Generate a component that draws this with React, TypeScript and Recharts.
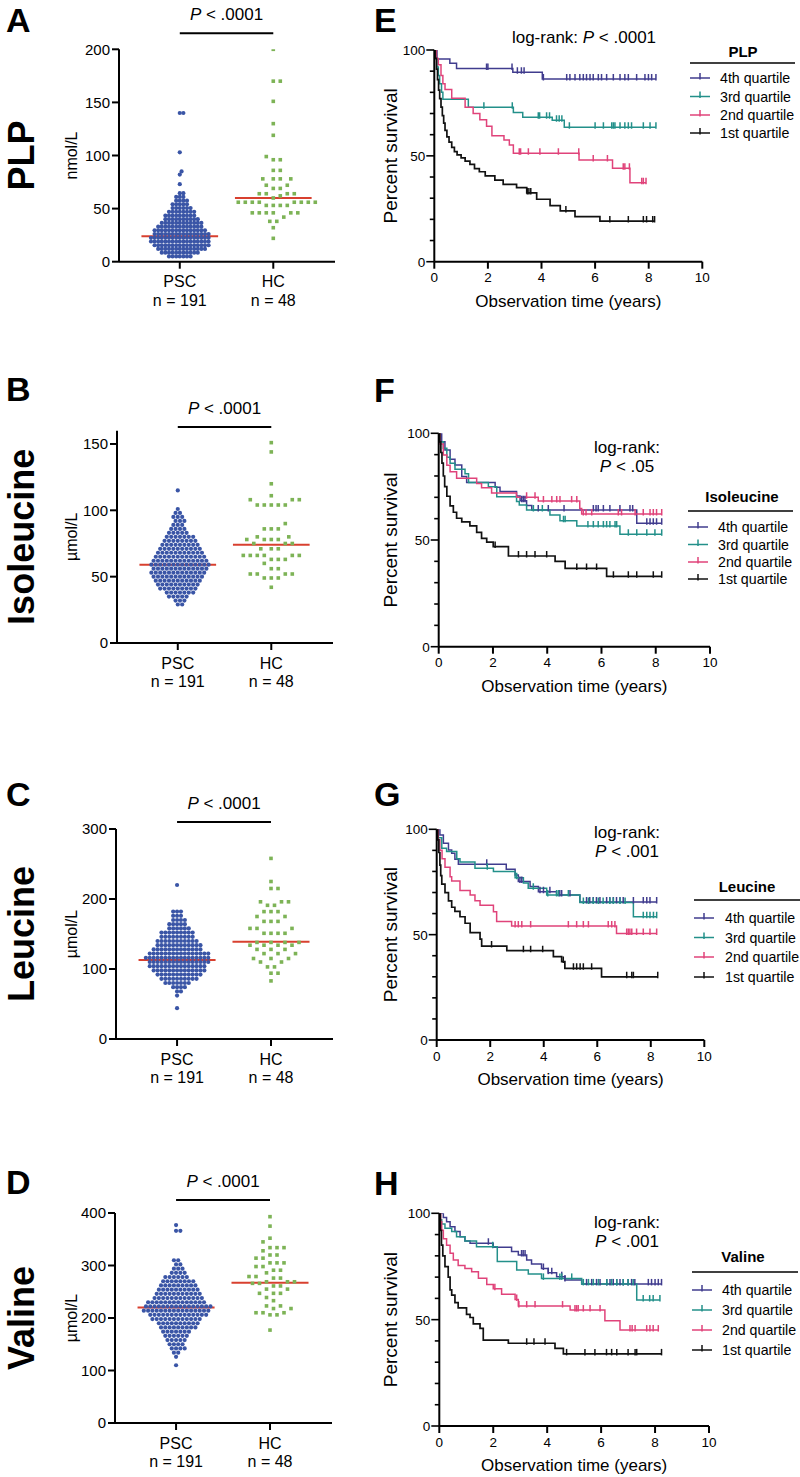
import React from 'react';
import { ScatterChart, Scatter, XAxis, YAxis, ReferenceLine, LineChart, Line, Legend } from 'recharts';

const FONT = '"Liberation Sans", Arial, Helvetica, sans-serif';

// ---------------- categories ----------------
const groupNames = ['PSC', 'HC'];
const groupSizes = ['n = 191', 'n = 48'];

// ---------------- scatter data (row value, number of dots in row) ----------------
// PLP (nmol/L)
const plpPscValues = [5, 8.5, 12, 15.5, 19, 22.5, 26, 29.5, 33, 36.5, 40, 43.5, 47, 50.5, 54, 57.5, 61, 64.5, 73, 82, 85, 103, 140];
const plpPscCounts = [7, 11, 14, 16, 17, 17, 16, 15, 13, 12, 10, 9, 8, 6, 5, 4, 3, 2, 1, 1, 1, 1, 2];
const plpHcValues = [22, 32, 38, 42, 46, 53, 56, 60, 62, 64, 69, 72, 78, 86, 96, 99, 119, 130, 151, 170, 200];
const plpHcCounts = [1, 1, 2, 1, 6, 4, 8, 1, 1, 4, 2, 2, 4, 2, 2, 1, 1, 1, 1, 2, 1];
const plpMedians = [24, 60];
const plpYTicks = [0, 50, 100, 150, 200];

// Isoleucine (µmol/L)
const ilePscValues = [29, 32, 35, 38, 41, 44, 47, 50, 53, 56, 59, 62, 65, 68, 71, 74, 77, 80, 83, 86, 89, 92, 95, 98, 101, 115];
const ilePscCounts = [2, 3, 5, 7, 9, 10, 11, 12, 13, 13, 14, 13, 12, 11, 10, 9, 8, 7, 5, 4, 3, 3, 3, 2, 1, 1];
const ileHcValues = [42, 49, 52, 56, 60, 63, 66, 71, 75, 78, 80, 86, 90, 104, 108, 111, 120, 144, 151];
const ileHcCounts = [1, 3, 4, 2, 1, 3, 6, 3, 3, 4, 2, 3, 1, 5, 3, 1, 1, 1, 1];
const ileMedians = [59, 74];
const ileYTicks = [0, 50, 100, 150];

// Leucine (µmol/L)
const leuPscValues = [44, 62, 68, 74, 80, 86, 92, 98, 104, 110, 116, 122, 128, 134, 140, 146, 152, 158, 164, 170, 176, 182, 220];
const leuPscCounts = [1, 1, 2, 4, 7, 10, 12, 14, 15, 16, 17, 16, 13, 12, 11, 9, 9, 6, 5, 4, 3, 3, 1];
const leuHcValues = [83, 94, 103, 110, 115, 122, 128, 134, 138, 151, 158, 168, 175, 182, 191, 196, 215, 225, 258];
const leuHcCounts = [1, 2, 2, 2, 3, 3, 3, 4, 4, 4, 3, 3, 2, 3, 2, 3, 2, 1, 1];
const leuMedians = [113, 139];
const leuYTicks = [0, 100, 200, 300];

// Valine (µmol/L)
const valPscValues = [110, 126, 134, 142, 150, 158, 166, 174, 182, 190, 198, 206, 214, 222, 230, 238, 246, 254, 262, 270, 278, 286, 294, 302, 310, 366, 377];
const valPscCounts = [1, 1, 2, 4, 4, 5, 6, 7, 9, 10, 12, 14, 16, 16, 14, 12, 11, 10, 9, 8, 6, 4, 3, 2, 2, 2, 1];
const valHcValues = [177, 206, 210, 218, 223, 233, 239, 247, 255, 261, 266, 269, 276, 279, 286, 291, 298, 305, 314, 320, 328, 334, 345, 352, 375, 393];
const valHcCounts = [1, 2, 3, 2, 2, 1, 1, 3, 2, 2, 2, 3, 2, 2, 1, 2, 2, 3, 2, 2, 1, 3, 1, 1, 1, 1];
const valMedians = [220, 267];
const valYTicks = [0, 100, 200, 300, 400];

// ---------------- Kaplan–Meier data: [time (years), percent survival] steps + censor times ----------------
const quartileNames = ['4th quartile', '3rd quartile', '2nd quartile', '1st quartile'];
const kmXTicks = [0, 2, 4, 6, 8, 10];
const kmYTicks = [0, 10, 20, 30, 40, 50, 60, 70, 80, 90, 100];

// PLP
const plpQ4Steps = [[0, 100], [0.1, 95.7], [0.58, 93.7], [0.83, 91.3], [2.93, 89.5], [4.03, 86.3]];
const plpQ4Censor = [1.95, 2.0, 2.9, 3.1, 3.25, 3.35, 4.07, 4.94, 5.06, 5.25, 5.43, 5.56, 5.68, 5.81, 5.93, 6.12, 6.24, 6.43, 6.68, 6.93, 7.11, 7.24, 7.55, 7.86, 7.99, 8.11, 8.27];
const plpQ3Steps = [[0, 100], [0.05, 96], [0.1, 92], [0.15, 88], [0.2, 84], [0.27, 80], [0.32, 76.7], [1.27, 72.9], [2.95, 70.5], [3.3, 68.2], [4.4, 66.8], [4.85, 63.5]];
const plpQ3Censor = [1.85, 2.91, 3.88, 3.93, 4.19, 4.3, 4.56, 4.66, 4.76, 5.04, 6.0, 6.31, 6.62, 6.68, 6.74, 6.93, 7.11, 7.24, 7.36, 7.8, 8.05, 8.27];
const plpQ2Steps = [[0, 100], [0.08, 96], [0.15, 93], [0.25, 88], [0.32, 84], [0.4, 81.4], [0.65, 77.2], [1.15, 73], [1.45, 70], [1.7, 67], [1.95, 64], [2.15, 59.5], [2.6, 57.5], [2.8, 55.1], [2.95, 51.2], [5.4, 48], [6.65, 44.1], [7.3, 37.3]];
const plpQ2Censor = [3.17, 3.22, 3.51, 3.94, 4.63, 5.39, 5.93, 6.46, 7.05, 7.11, 7.28, 7.74, 7.8, 7.9];
const plpQ1Steps = [[0, 100], [0.04, 96], [0.08, 91], [0.12, 86], [0.16, 81], [0.2, 77], [0.25, 73], [0.3, 69], [0.35, 65.5], [0.4, 62], [0.47, 59], [0.55, 56.5], [0.65, 54], [0.75, 52], [0.85, 50.5], [1.0, 49], [1.15, 47.5], [1.33, 46], [1.5, 44], [1.68, 42.5], [1.9, 40.5], [2.26, 38.5], [2.57, 36.5], [3.07, 35], [3.45, 32.5], [3.82, 29.5], [4.32, 26.5], [4.7, 24], [5.25, 21.3], [6.18, 19.2]];
const plpQ1Censor = [3.47, 3.53, 3.6, 4.91, 6.55, 7.24, 7.8, 7.92, 8.15, 8.22];

// Isoleucine
const ileQ4Steps = [[0, 100], [0.11, 96], [0.23, 92.2], [0.42, 87.8], [0.6, 85.2], [0.85, 79.7], [1.03, 77], [2.08, 74.7], [2.26, 72.7], [2.87, 70.6], [3.0, 68.4], [3.24, 66.2], [3.43, 64.1], [7.3, 57.8]];
const ileQ4Censor = [3.06, 3.12, 3.18, 3.67, 4.04, 4.62, 5.7, 5.8, 5.88, 6.07, 6.31, 6.68, 7.05, 7.15, 7.67, 7.79, 7.91, 8.03, 8.22];
const ileQ3Steps = [[0, 100], [0.05, 96], [0.17, 93], [0.3, 88.8], [0.42, 86], [0.6, 83.1], [0.97, 81], [1.1, 77], [1.83, 75], [2.14, 70.3], [2.87, 68], [2.97, 66.4], [3.24, 64], [4.1, 61.7], [4.47, 59], [5.09, 56.6], [6.68, 52.7]];
const ileQ3Censor = [3.49, 3.82, 4.6, 4.66, 5.5, 5.7, 5.88, 6.07, 6.19, 6.31, 6.5, 6.56, 6.99, 7.3, 7.67, 7.97, 8.22];
const ileQ2Steps = [[0, 100], [0.05, 95], [0.17, 89.8], [0.3, 85], [0.42, 82], [0.66, 78.9], [1.4, 76.5], [1.58, 74.5], [1.95, 72], [2.87, 70], [3.67, 68.3], [5.2, 64.8], [5.27, 62.2]];
const ileQ2Censor = [3.24, 3.55, 3.86, 4.17, 4.35, 4.47, 4.9, 5.09, 5.33, 5.43, 5.64, 6.62, 6.74, 7.24, 7.54, 7.79, 7.91, 8.03, 8.22];
const ileQ1Steps = [[0, 100], [0.04, 96], [0.08, 91], [0.12, 86], [0.17, 80], [0.22, 75], [0.3, 70.5], [0.42, 66], [0.54, 63], [0.66, 60.2], [0.85, 58.5], [1.15, 56.6], [1.4, 53.6], [1.58, 50.8], [1.77, 49], [2.01, 46.9], [2.57, 42.5], [4.29, 40], [4.66, 36.7], [6.19, 33]];
const ileQ1Censor = [2.08, 2.94, 3.24, 3.55, 3.98, 5.09, 5.45, 5.82, 6.44, 6.99, 7.3, 7.91, 8.22];

// Leucine
const leuQ4Steps = [[0, 100], [0.12, 97.3], [0.25, 93.4], [0.44, 90.2], [0.56, 88.6], [0.68, 85.8], [0.81, 83.4], [2.6, 81], [2.93, 78.3], [3.05, 75.2], [3.49, 72.8], [3.8, 70.4], [4.48, 68.8], [5.35, 65.5]];
const leuQ4Censor = [1.87, 3.11, 3.18, 3.86, 3.99, 4.23, 4.6, 4.67, 4.98, 5.6, 5.72, 5.85, 5.97, 6.1, 6.35, 6.47, 6.6, 6.72, 6.85, 6.97, 7.35, 7.72, 7.85, 7.97, 8.22];
const leuQ3Steps = [[0, 100], [0.06, 96], [0.19, 91], [0.37, 89.5], [0.75, 86], [0.87, 84.5], [1.43, 81.5], [2.12, 80], [2.93, 77], [3.24, 74.5], [3.42, 72], [4.11, 68.8], [5.35, 65.2], [7.35, 58.5]];
const leuQ3Censor = [1.89, 2.99, 3.61, 4.15, 4.48, 4.55, 4.92, 5.48, 5.67, 5.85, 6.04, 6.22, 6.47, 6.6, 6.85, 7.04, 7.72, 7.85, 7.97, 8.1, 8.22];
const leuQ2Steps = [[0, 100], [0.06, 95], [0.12, 90], [0.2, 86], [0.31, 82], [0.5, 77.5], [0.56, 75.5], [0.87, 70.9], [1.25, 68.8], [1.43, 66.1], [1.62, 64], [2.12, 60.9], [2.24, 56.2], [2.8, 54.1], [6.72, 50.6]];
const leuQ2Censor = [2.93, 3.05, 3.18, 3.51, 4.92, 5.23, 5.48, 5.67, 6.41, 6.54, 6.66, 7.1, 7.16, 7.22, 7.29, 7.47, 7.72, 7.97, 8.22];
const leuQ1Steps = [[0, 100], [0.04, 95], [0.08, 89], [0.12, 83], [0.15, 78], [0.19, 74], [0.31, 69.9], [0.44, 66], [0.56, 63], [0.68, 61], [0.87, 58.5], [1.06, 55.4], [1.25, 51], [1.62, 47.9], [1.68, 44.6], [2.62, 42.4], [4.36, 39.6], [4.67, 37.2], [4.79, 34], [6.16, 30]];
const leuQ1Censor = [2.05, 3.24, 3.51, 3.96, 4.73, 5.11, 5.23, 5.36, 5.48, 5.79, 7.1, 7.29, 7.35, 8.26];

// Valine
const valQ4Steps = [[0, 100], [0.15, 98], [0.27, 96], [0.4, 93.7], [0.58, 91.4], [0.77, 89], [0.95, 87], [1.14, 85.9], [2.0, 84], [2.68, 82], [2.93, 80.4], [3.24, 78], [3.42, 76.2], [3.79, 74.1], [4.04, 72.1], [4.35, 70.2], [4.66, 68.7], [5.28, 66.8]];
const valQ4Censor = [1.82, 3.05, 3.11, 3.18, 3.86, 4.04, 4.17, 4.54, 4.66, 5.46, 5.65, 5.83, 5.96, 6.21, 6.33, 6.45, 6.58, 6.7, 6.82, 7.0, 7.13, 7.25, 7.75, 7.87, 8.0, 8.12, 8.24];
const valQ3Steps = [[0, 100], [0.02, 97], [0.09, 95], [0.21, 93], [0.46, 91.5], [0.64, 89], [0.95, 87], [1.38, 84.3], [2.15, 77.3], [2.87, 73.4], [3.3, 71.5], [3.79, 69.4], [5.28, 66.8], [7.32, 59.2]];
const valQ3Censor = [1.98, 3.86, 4.47, 4.54, 4.91, 5.34, 5.53, 5.71, 5.9, 6.21, 6.39, 6.58, 6.82, 7.0, 7.19, 7.56, 7.8, 7.93, 8.18];
const valQ2Steps = [[0, 100], [0.05, 96], [0.09, 92], [0.15, 88], [0.27, 85], [0.4, 81.2], [0.52, 78], [0.7, 75.5], [0.95, 74.1], [1.2, 72.5], [1.45, 69.5], [1.76, 66.5], [2.0, 64.5], [2.31, 62], [2.81, 59.5], [2.93, 56.4], [4.85, 54.5], [6.14, 49.5], [6.7, 45.1]];
const valQ2Censor = [2.06, 2.87, 2.95, 3.24, 3.55, 4.57, 5.03, 5.09, 5.15, 5.34, 5.59, 5.96, 7.07, 7.15, 7.26, 7.69, 7.81, 7.93, 8.12];
const valQ1Steps = [[0, 100], [0.04, 92], [0.08, 85], [0.13, 80], [0.21, 74.9], [0.33, 70], [0.4, 64], [0.46, 61.5], [0.58, 58], [0.7, 55.5], [1.01, 52.5], [1.14, 51], [1.26, 48], [1.51, 45.9], [1.63, 40.4], [2.56, 38.9], [4.29, 36.5], [4.6, 33.9]];
const valQ1Censor = [3.24, 3.51, 3.92, 4.72, 5.4, 5.77, 6.2, 6.39, 6.58, 7.0, 7.26, 7.32, 8.24];

// ---------------- styles / layout ----------------
const PSC_COLOR = '#3a55a6';
const HC_COLOR = '#7db356';
const MEDIAN_COLOR = '#d8402f';
const quartileColors = ['#403c8e', '#23908a', '#e0437a', '#111111'];
const AXIS = { stroke: '#000', strokeWidth: 2 };
const XMIN = -0.65;
const XMAX = 1.66;
const MEDIAN_HALF = 0.41;

const scatterPanels = [
  { letter: 'A', name: 'PLP', unit: 'nmol/L', yMax: 200, yTicks: plpYTicks, psc: [plpPscValues, plpPscCounts], hc: [plpHcValues, plpHcCounts], medians: plpMedians, barY: 215, gap: 3.6,
    box: { top: 0, height: 320, plotLeft: 119, plotRight: 335, plotTop: 49.3, plotBottom: 261.7 }, letterY: 32 },
  { letter: 'B', name: 'Isoleucine', unit: 'µmol/L', yMax: 160, yTicks: ileYTicks, psc: [ilePscValues, ilePscCounts], hc: [ileHcValues, ileHcCounts], medians: ileMedians, barY: 162.8, gap: 4.4,
    box: { top: 370, height: 330, plotLeft: 117, plotRight: 333, plotTop: 430.7, plotBottom: 643 }, letterY: 401 },
  { letter: 'C', name: 'Leucine', unit: 'µmol/L', yMax: 300, yTicks: leuYTicks, psc: [leuPscValues, leuPscCounts], hc: [leuHcValues, leuHcCounts], medians: leuMedians, barY: 310, gap: 3.9,
    box: { top: 740, height: 360, plotLeft: 116, plotRight: 333, plotTop: 829, plotBottom: 1039 }, letterY: 806 },
  { letter: 'D', name: 'Valine', unit: 'µmol/L', yMax: 400, yTicks: valYTicks, psc: [valPscValues, valPscCounts], hc: [valHcValues, valHcCounts], medians: valMedians, barY: 424.8, gap: 4.3,
    box: { top: 1110, height: 367, plotLeft: 115, plotRight: 332, plotTop: 1213, plotBottom: 1423 }, letterY: 1194 },
];

const kmPanels = [
  { letter: 'E', name: 'PLP', curves: [[plpQ4Steps, plpQ4Censor], [plpQ3Steps, plpQ3Censor], [plpQ2Steps, plpQ2Censor], [plpQ1Steps, plpQ1Censor]],
    box: { top: 0, height: 320, plotLeft: 434.3, plotRight: 702.3, plotTop: 50, plotBottom: 261.7 }, letterY: 32,
    logRank: { oneLine: true, p: '.0001', x: 584, y1: 42.7, y2: 0 },
    legend: { x0: 690, x1: 795, headerCx: 743, headerBaseline: 57, lineY: 63, rows: [78, 96.5, 115, 133], textX: 720 } },
  { letter: 'F', name: 'Isoleucine', curves: [[ileQ4Steps, ileQ4Censor], [ileQ3Steps, ileQ3Censor], [ileQ2Steps, ileQ2Censor], [ileQ1Steps, ileQ1Censor]],
    box: { top: 370, height: 330, plotLeft: 438.7, plotRight: 710, plotTop: 433.3, plotBottom: 646.7 }, letterY: 402,
    logRank: { oneLine: false, p: '.05', x: 627, y1: 453, y2: 472 },
    legend: { x0: 688, x1: 793, headerCx: 742, headerBaseline: 502, lineY: 511, rows: [527, 544.5, 562, 579], textX: 718 } },
  { letter: 'G', name: 'Leucine', curves: [[leuQ4Steps, leuQ4Censor], [leuQ3Steps, leuQ3Censor], [leuQ2Steps, leuQ2Censor], [leuQ1Steps, leuQ1Censor]],
    box: { top: 740, height: 350, plotLeft: 436.7, plotRight: 704.3, plotTop: 829.3, plotBottom: 1040 }, letterY: 806,
    logRank: { oneLine: false, p: '.001', x: 627, y1: 838, y2: 857 },
    legend: { x0: 694, x1: 800, headerCx: 747, headerBaseline: 892, lineY: 900, rows: [918, 937.5, 957, 977], textX: 725 } },
  { letter: 'H', name: 'Valine', curves: [[valQ4Steps, valQ4Censor], [valQ3Steps, valQ3Censor], [valQ2Steps, valQ2Censor], [valQ1Steps, valQ1Censor]],
    box: { top: 1110, height: 367, plotLeft: 439.3, plotRight: 709, plotTop: 1213.3, plotBottom: 1426 }, letterY: 1195,
    logRank: { oneLine: false, p: '.001', x: 627, y1: 1228, y2: 1247 },
    legend: { x0: 692, x1: 798, headerCx: 743, headerBaseline: 1262, lineY: 1272, rows: [1290, 1310, 1330, 1350], textX: 722 } },
];

// ---------------- helpers ----------------
function expandRows(values: number[], counts: number[]): number[] {
  const out: number[] = [];
  values.forEach((v, i) => {
    for (let k = 0; k < counts[i]; k++) out.push(v);
  });
  return out;
}

// beeswarm layout: horizontal pixel offsets so dots do not overlap
function swarmOffsets(vals: number[], pxPerY: number, gap: number): number[] {
  const placed: [number, number][] = [];
  const res: number[] = [];
  const cands: number[] = [0];
  for (let k = 1; k <= 80; k++) cands.push((k * gap) / 2, (-k * gap) / 2);
  vals.forEach((v) => {
    const y = v * pxPerY;
    for (const c of cands) {
      let ok = true;
      for (const [px, py] of placed) {
        const dx = px - c;
        const dy = py - y;
        if (dx * dx + dy * dy < gap * gap - 0.01) {
          ok = false;
          break;
        }
      }
      if (ok) {
        placed.push([c, y]);
        res.push(c);
        return;
      }
    }
    res.push(0);
  });
  return res;
}

function buildKM(steps: number[][], censor: number[]) {
  const pts: { t: number; s: number; c: boolean }[] = steps.map(([t, s]) => ({ t, s, c: false }));
  censor.forEach((ct) => {
    let s = 100;
    for (const [t, v] of steps) if (t <= ct) s = v;
    pts.push({ t: ct, s, c: true });
  });
  pts.sort((a, b) => a.t - b.t || (a.c === b.c ? 0 : a.c ? 1 : -1));
  return pts;
}

const PText = ({ x, y, p, size, anchor = 'middle', prefix = '' }: any) => (
  <text x={x} y={y} textAnchor={anchor} fontSize={size} fill="#000">
    {prefix}
    <tspan fontStyle="italic">P</tspan>
    {' < ' + p}
  </text>
);

// ---------------- scatter panel ----------------
function ScatterPanel({ p }: any) {
  const b = p.box;
  const W = 360;
  const pxPerY = (b.plotBottom - b.plotTop) / p.yMax;
  const pxPerX = (b.plotRight - b.plotLeft) / (XMAX - XMIN);
  const pscVals = expandRows(p.psc[0], p.psc[1]);
  const hcVals = expandRows(p.hc[0], p.hc[1]);
  const pscOff = swarmOffsets(pscVals, pxPerY, p.gap);
  const hcOff = swarmOffsets(hcVals, pxPerY, 7);
  const pscPts = pscVals.map((v, i) => ({ x: 0 + pscOff[i] / pxPerX, y: v }));
  const hcPts = hcVals.map((v, i) => ({ x: 1 + hcOff[i] / pxPerX, y: v }));

  const CatTick = (props: any) => {
    const { x, y, payload } = props;
    const i = Math.round(payload.value);
    return (
      <g>
        <text x={x} y={y + 16.5} textAnchor="middle" fontSize={16} fill="#000">{groupNames[i]}</text>
        <text x={x} y={y + 35} textAnchor="middle" fontSize={16} fill="#000">{groupSizes[i]}</text>
      </g>
    );
  };

  return (
    <div style={{ position: 'absolute', left: 0, top: b.top }}>
      <ScatterChart
        width={W}
        height={b.height}
        margin={{ top: b.plotTop - b.top, right: W - b.plotRight, bottom: b.top + b.height - b.plotBottom - 50, left: 0 }}
      >
        <XAxis type="number" dataKey="x" domain={[XMIN, XMAX]} ticks={[0, 1]} interval={0} height={50}
          axisLine={AXIS} tickLine={AXIS} tickSize={7} tickMargin={2} tick={CatTick} allowDataOverflow />
        <YAxis type="number" dataKey="y" domain={[0, p.yMax]} ticks={p.yTicks} interval={0} width={b.plotLeft}
          axisLine={AXIS} tickLine={AXIS} tickSize={7} tickMargin={2} tick={{ fontSize: 15, fill: '#000' }} allowDataOverflow />
        <Scatter data={pscPts} isAnimationActive={false}
          shape={(s: any) => <circle cx={s.cx} cy={s.cy} r={2.1} fill={PSC_COLOR} />} />
        <Scatter data={hcPts} isAnimationActive={false}
          shape={(s: any) => <rect x={s.cx - 1.8} y={s.cy - 1.8} width={3.6} height={3.6} fill={HC_COLOR} />} />
        <ReferenceLine segment={[{ x: -MEDIAN_HALF, y: p.medians[0] }, { x: MEDIAN_HALF, y: p.medians[0] }]} stroke={MEDIAN_COLOR} strokeWidth={2} />
        <ReferenceLine segment={[{ x: 1 - MEDIAN_HALF, y: p.medians[1] }, { x: 1 + MEDIAN_HALF, y: p.medians[1] }]} stroke={MEDIAN_COLOR} strokeWidth={2} />
        <ReferenceLine segment={[{ x: 0, y: p.barY }, { x: 1, y: p.barY }]} stroke="#000" strokeWidth={2} ifOverflow="visible" />
      </ScatterChart>
    </div>
  );
}

// ---------------- KM panel ----------------
const KMYTick = (props: any) => {
  const { x, y, payload } = props;
  const major = payload.value % 50 === 0;
  return (
    <g>
      <line x1={x - (major ? 8 : 4.5)} x2={x} y1={y} y2={y} stroke="#000" strokeWidth={1.6} />
      {major && (
        <text x={x - 9} y={y} dy="0.36em" textAnchor="end" fontSize={13.5} fill="#000">{payload.value}</text>
      )}
    </g>
  );
};

const censorDot = (color: string) => (props: any) => {
  const { cx, cy, payload, index } = props;
  if (!payload || !payload.c) return <g key={`n${index}`} />;
  return <line key={`c${index}`} x1={cx} x2={cx} y1={cy - 5} y2={cy + 1.5} stroke={color} strokeWidth={1.5} />;
};

function KMLegendBox({ spec, title }: any) {
  const bx = spec.x0 - 4;
  const by = spec.headerBaseline - 18;
  const bw = spec.x1 - bx + 6;
  const bh = spec.rows[3] + 12 - by;
  return (
    <svg width={bw} height={bh} style={{ overflow: 'visible', display: 'block' }}>
      <g transform={`translate(${-bx},${-by})`}>
        <text x={spec.headerCx} y={spec.headerBaseline} textAnchor="middle" fontWeight="bold" fontSize={15} fill="#000">{title}</text>
        <line x1={spec.x0} x2={spec.x1} y1={spec.lineY} y2={spec.lineY} stroke="#000" strokeWidth={1.6} />
        {quartileNames.map((n, i) => (
          <g key={n}>
            <line x1={spec.x0} x2={spec.x0 + 20} y1={spec.rows[i]} y2={spec.rows[i]} stroke={quartileColors[i]} strokeWidth={1.5} />
            <line x1={spec.x0 + 10} x2={spec.x0 + 10} y1={spec.rows[i] - 5} y2={spec.rows[i] + 1.5} stroke={quartileColors[i]} strokeWidth={1.5} />
            <text x={spec.textX} y={spec.rows[i]} dy="0.36em" fontSize={14.2} fill="#000">{n}</text>
          </g>
        ))}
      </g>
    </svg>
  );
}

function KMPanel({ p }: any) {
  const b = p.box;
  const L = 380;
  const W = 420;
  const spec = p.legend;
  const bx = spec.x0 - 4;
  const by = spec.headerBaseline - 18;
  const order = [0, 1, 2, 3];
  return (
    <div style={{ position: 'absolute', left: L, top: b.top }}>
      <LineChart
        width={W}
        height={b.height}
        margin={{ top: b.plotTop - b.top, right: L + W - b.plotRight, bottom: b.top + b.height - b.plotBottom - 40, left: 0 }}
      >
        <XAxis type="number" dataKey="t" domain={[0, 10]} ticks={kmXTicks} interval={0} height={40}
          axisLine={AXIS} tickLine={AXIS} tickSize={7} tickMargin={4} tick={{ fontSize: 13.5, fill: '#000' }} allowDataOverflow />
        <YAxis type="number" domain={[0, 100]} ticks={kmYTicks} interval={0} width={b.plotLeft - L}
          axisLine={AXIS} tickLine={false} tickSize={0} tickMargin={0} tick={KMYTick} allowDataOverflow />
        {order.map((i) => (
          <Line key={i} data={buildKM(p.curves[i][0], p.curves[i][1])} dataKey="s" type="stepAfter"
            stroke={quartileColors[i]} strokeWidth={i === 3 ? 1.7 : 1.5} dot={censorDot(quartileColors[i])}
            activeDot={false} isAnimationActive={false} legendType="none" name={quartileNames[i]} />
        ))}
        <Legend layout="vertical" align="center" verticalAlign="middle"
          wrapperStyle={{ left: bx - L, top: by - b.top, width: spec.x1 - bx + 6, height: spec.rows[3] + 12 - by, margin: 0, padding: 0 }}
          content={() => <KMLegendBox spec={spec} title={p.name} />} />
      </LineChart>
    </div>
  );
}

// ---------------- overlay text ----------------
function Overlay() {
  return (
    <svg width={800} height={1477} style={{ position: 'absolute', left: 0, top: 0, pointerEvents: 'none' }} fontFamily={FONT}>
      {scatterPanels.map((p) => {
        const b = p.box;
        const pxPerY = (b.plotBottom - b.plotTop) / p.yMax;
        const pxPerX = (b.plotRight - b.plotLeft) / (XMAX - XMIN);
        const pscX = b.plotLeft + (0 - XMIN) * pxPerX;
        const hcX = b.plotLeft + (1 - XMIN) * pxPerX;
        const barPx = b.plotBottom - p.barY * pxPerY;
        const cy = (b.plotTop + b.plotBottom) / 2;
        return (
          <g key={p.letter}>
            <text x={6} y={p.letterY} fontSize={34} fontWeight="bold" fill="#000">{p.letter}</text>
            <text x={34} y={cy} fontSize={36} fontWeight="bold" fill="#000" textAnchor="middle" transform={`rotate(-90 34 ${cy})`}>{p.name}</text>
            <text x={77} y={cy} fontSize={16} fill="#000" textAnchor="middle" transform={`rotate(-90 77 ${cy})`}>{p.unit}</text>
            <PText x={(pscX + hcX) / 2} y={barPx - 13} p=".0001" size={17} />
          </g>
        );
      })}
      {kmPanels.map((p) => {
        const b = p.box;
        const cy = (b.plotTop + b.plotBottom) / 2;
        const cx = (b.plotLeft + b.plotRight) / 2;
        const lr = p.logRank;
        return (
          <g key={p.letter}>
            <text x={374} y={p.letterY} fontSize={34} fontWeight="bold" fill="#000">{p.letter}</text>
            <text x={397} y={cy} fontSize={19} fill="#000" textAnchor="middle" transform={`rotate(-90 397 ${cy})`}>Percent survival</text>
            <text x={cx} y={b.plotBottom + 45} fontSize={17} fill="#000" textAnchor="middle">Observation time (years)</text>
            {lr.oneLine ? (
              <PText x={lr.x} y={lr.y1} p={lr.p} size={17} prefix="log-rank: " />
            ) : (
              <g>
                <text x={lr.x} y={lr.y1} fontSize={17} fill="#000" textAnchor="middle">log-rank:</text>
                <PText x={lr.x} y={lr.y2} p={lr.p} size={17} />
              </g>
            )}
          </g>
        );
      })}
    </svg>
  );
}

export default function App() {
  return (
    <div style={{ position: 'absolute', left: 0, top: 0, width: 800, height: 1477, background: '#fff', fontFamily: FONT, overflow: 'hidden' }}>
      {scatterPanels.map((p) => <ScatterPanel key={p.letter} p={p} />)}
      {kmPanels.map((p) => <KMPanel key={p.letter} p={p} />)}
      <Overlay />
    </div>
  );
}
